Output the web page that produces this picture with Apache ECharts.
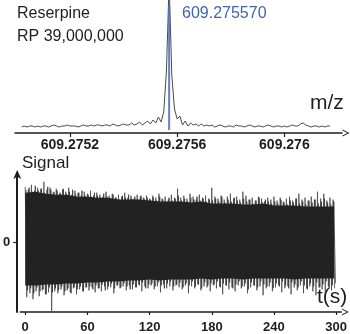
<!DOCTYPE html>
<html>
<head>
<meta charset="utf-8">
<script src="https://cdn.jsdelivr.net/npm/echarts@6/dist/echarts.min.js"></script>
<style>
  html, body { margin: 0; padding: 0; background: #fff; }
  #chart { width: 350px; height: 334px; }
</style>
</head>
<body>
<div id="chart"></div>
<script>
// spectrum: m/z start + step, intensity in arbitrary units (axis 0..133)
var mzStart = 609.27502;
var mzStep = 0.00001;
var intensity = [
  6, 7, 6, 7, 7, 6, 7, 6, 7, 7,
  6, 7, 8, 7, 6, 7, 7, 8, 7, 7,
  7, 6, 7, 8, 7, 7, 8, 7, 8, 8,
  7, 8, 8, 7, 9, 8, 7, 8, 9, 8,
  8, 10, 8, 9, 11, 8, 10, 12, 9, 13,
  10, 16, 11, 21, 62, 150, 58, 24, 14, 17,
  8, 12, 7, 10, 8, 9, 7, 9,
  7, 8, 7, 8, 6, 7, 8, 7, 6, 7,
  7, 6, 8, 7, 7, 6, 7, 8, 7, 6,
  7, 7, 6, 7, 8, 7, 6, 7, 7, 6,
  7, 6, 7, 8, 7, 7, 9, 10, 8, 7,
  6, 7, 7, 6, 7, 6, 7, 7
];
var peakMz = 609.275570;
var mzTicks = [609.2752, 609.2756, 609.2760];
var mzTickLabels = ['609.2752', '609.2756', '609.276'];

// transient: solid core envelope
var coreTime = [0, 10, 20, 30, 40, 50, 60, 70, 80, 90, 100, 110, 120, 130, 140, 150,
  160, 170, 180, 190, 200, 210, 220, 230, 240, 250, 260, 270, 280, 290, 298];
var coreTop = [50, 51, 49, 48, 48, 46, 46, 45, 45, 43, 43, 43, 42, 41, 41, 41,
  40, 41, 39, 39, 39, 38, 38, 39, 37, 37, 37, 36, 36, 36, 36];
var coreBottom = [-44, -44, -43, -43, -42, -42, -41, -41, -40, -40, -39, -39, -38, -39, -38, -38,
  -38, -37, -38, -37, -37, -38, -37, -37, -37, -37, -38, -37, -37, -37, -37];

// transient: spike maxima / minima, one pair every 3 s (two interleaved sets)
var spikeStep = 3;
var spikeUp = [
  56, 53, 58, 52, 55, 54, 61, 53, 55, 50,
  54, 49, 53, 51, 55, 48, 52, 50, 47, 51,
  49, 52, 47, 50, 48, 46, 51, 47, 49, 45,
  48, 46, 50, 45, 47, 44, 48, 46, 45, 47,
  44, 47, 45, 49, 44, 46, 43, 48, 45, 54,
  45, 47, 44, 49, 46, 43, 48, 45, 47, 44,
  55, 46, 44, 47, 43, 46, 49, 44, 46, 43,
  51, 47, 43, 45, 42, 46, 44, 41, 45, 43,
  46, 42, 45, 41, 44, 46, 42, 44, 49, 43,
  45, 42, 46, 43, 51, 44, 49, 42, 45, 43
];
var spikeDown = [
  -56, -52, -58, -50, -55, -49, -53, -51, -70, -50,
  -52, -48, -54, -49, -51, -47, -53, -48, -50, -46,
  -49, -46, -51, -47, -50, -45, -48, -46, -52, -44,
  -47, -45, -49, -44, -48, -46, -43, -50, -45, -47,
  -44, -48, -45, -51, -43, -47, -45, -49, -44, -46,
  -48, -44, -52, -45, -47, -43, -49, -45, -46, -50,
  -44, -47, -45, -53, -44, -48, -46, -50, -44, -47,
  -45, -52, -46, -44, -49, -45, -54, -47, -45, -50,
  -46, -44, -51, -47, -45, -53, -46, -49, -44, -52,
  -47, -45, -50, -54, -46, -48, -52, -45, -49, -47
];
var spikeUp2 = [
  53, 55, 51, 57, 52, 54, 50, 56, 53, 51,
  52, 50, 54, 49, 51, 53, 48, 50, 52, 47,
  48, 46, 50, 47, 45, 49, 46, 44, 48, 45,
  43, 47, 45, 48, 44, 46, 43, 47, 44, 45,
  43, 45, 42, 46, 43, 41, 45, 42, 44, 47,
  42, 44, 41, 45, 43, 46, 42, 44, 41, 43,
  42, 44, 41, 46, 40, 43, 41, 45, 42, 40,
  44, 41, 43, 39, 42, 45, 40, 43, 41, 39,
  41, 39, 43, 40, 38, 42, 40, 44, 39, 41,
  38, 42, 40, 43, 39, 41, 44, 40, 38, 41
];
var spikeDown2 = [
  -49, -47, -52, -46, -50, -48, -53, -46, -51, -47,
  -49, -45, -50, -47, -52, -46, -48, -45, -50, -46,
  -45, -48, -44, -47, -43, -49, -45, -42, -47, -44,
  -46, -42, -45, -48, -43, -46, -44, -41, -47, -43,
  -42, -45, -41, -44, -47, -42, -40, -45, -43, -41,
  -46, -42, -44, -40, -45, -43, -47, -41, -44, -42,
  -43, -40, -46, -42, -44, -41, -47, -43, -40, -45,
  -42, -48, -41, -44, -46, -40, -43, -45, -41, -47,
  -42, -45, -40, -44, -47, -41, -43, -46, -40, -44,
  -48, -42, -45, -41, -46, -43, -40, -47, -44, -42
];
var timeTicks = [0, 60, 120, 180, 240, 300];
var signalTicks = [0];

var FONT = 'Liberation Sans, Arial, sans-serif';
var INK = '#1e1e1e';
var arrowPath = 'path://M0,10 L5,0 L10,10 L8.6,10 L5,3 L1.4,10 Z';

var spectrum = intensity.map(function (v, i) {
  return [mzStart + i * mzStep, v];
});
function zigzagOf(up, down, shift) {
  var pts = [];
  up.forEach(function (v, i) {
    pts.push([i * spikeStep + shift, v]);
    pts.push([i * spikeStep + shift + spikeStep / 2, down[i]]);
  });
  return pts;
}
var coreUp = coreTime.map(function (t, i) { return [t, coreTop[i]]; });
var coreDown = coreTime.map(function (t, i) { return [t, coreBottom[i]]; });

var myChart = echarts.init(document.getElementById('chart'));
var option = {
  animation: false,
  grid: [
    { left: 15, right: 8, top: 0, height: 133 },
    { left: 20, right: 8, top: 173, height: 141 }
  ],
  xAxis: [
    {
      gridIndex: 0,
      type: 'value',
      min: 609.274995,
      max: 609.276215,
      splitLine: { show: false },
      axisLine: {
        onZero: false,
        lineStyle: { color: INK, width: 1.5 },
        symbol: ['none', arrowPath],
        symbolSize: [9, 7],
        symbolOffset: [0, 4]
      },
      axisTick: {
        customValues: mzTicks,
        length: 4,
        lineStyle: { color: INK, width: 1.2 }
      },
      axisLabel: {
        customValues: mzTicks,
        margin: 5,
        color: INK,
        fontFamily: FONT,
        fontWeight: 'bold',
        fontSize: 14,
        formatter: function (v) {
          var k = 0;
          mzTicks.forEach(function (t, i) {
            if (Math.abs(t - v) < Math.abs(mzTicks[k] - v)) k = i;
          });
          return mzTickLabels[k];
        }
      }
    },
    {
      gridIndex: 1,
      type: 'value',
      min: -4.8,
      max: 305,
      splitLine: { show: false },
      axisLine: {
        onZero: false,
        lineStyle: { color: INK, width: 1.5 },
        symbol: ['none', arrowPath],
        symbolSize: [9, 7],
        symbolOffset: [0, 4]
      },
      axisTick: {
        customValues: timeTicks,
        length: 3,
        lineStyle: { color: INK, width: 1.2 }
      },
      axisLabel: {
        customValues: timeTicks,
        margin: 9,
        color: INK,
        fontFamily: FONT,
        fontWeight: 'bold',
        fontSize: 13
      }
    }
  ],
  yAxis: [
    {
      gridIndex: 0,
      type: 'value',
      min: 0,
      max: 133,
      show: false
    },
    {
      gridIndex: 1,
      type: 'value',
      min: -71,
      max: 70,
      offset: 3,
      splitLine: { show: false },
      axisLine: {
        onZero: false,
        lineStyle: { color: INK, width: 2 },
        symbol: ['none', 'arrow'],
        symbolSize: [6, 9],
        symbolOffset: [0, 3]
      },
      axisTick: {
        customValues: signalTicks,
        length: 4,
        lineStyle: { color: INK, width: 1.2 }
      },
      axisLabel: {
        customValues: signalTicks,
        margin: 7,
        color: INK,
        fontFamily: FONT,
        fontWeight: 'bold',
        fontSize: 13
      }
    }
  ],
  series: [
    {
      name: 'spectrum',
      type: 'line',
      xAxisIndex: 0,
      yAxisIndex: 0,
      data: spectrum,
      showSymbol: false,
      lineStyle: { color: '#4a4a4a', width: 1 },
      z: 2
    },
    {
      name: 'peak',
      type: 'line',
      xAxisIndex: 0,
      yAxisIndex: 0,
      data: [[peakMz, 3], [peakMz, 128]],
      showSymbol: false,
      lineStyle: { color: 'rgba(72,108,196,0.85)', width: 2 },
      z: 3
    },
    {
      name: 'transient',
      type: 'line',
      xAxisIndex: 1,
      yAxisIndex: 1,
      data: zigzagOf(spikeUp, spikeDown, 0),
      showSymbol: false,
      lineStyle: { color: '#4a4a4a', width: 0.8 },
      z: 2
    },
    {
      name: 'transient2',
      type: 'line',
      xAxisIndex: 1,
      yAxisIndex: 1,
      data: zigzagOf(spikeUp2, spikeDown2, 0.75),
      showSymbol: false,
      lineStyle: { color: '#333', width: 0.8 },
      z: 2
    },
    {
      name: 'coreUp',
      type: 'line',
      xAxisIndex: 1,
      yAxisIndex: 1,
      data: coreUp,
      showSymbol: false,
      lineStyle: { width: 0 },
      areaStyle: { color: '#222', opacity: 1 },
      z: 3
    },
    {
      name: 'coreDown',
      type: 'line',
      xAxisIndex: 1,
      yAxisIndex: 1,
      data: coreDown,
      showSymbol: false,
      lineStyle: { width: 0 },
      areaStyle: { color: '#222', opacity: 1 },
      z: 3
    }
  ],
  graphic: [
    { type: 'text', left: 17, top: 6, style: { text: 'Reserpine', fill: INK, font: '16px ' + FONT } },
    { type: 'text', left: 17, top: 29, style: { text: 'RP 39,000,000', fill: INK, font: '16px ' + FONT } },
    { type: 'text', left: 182, top: 6, style: { text: '609.275570', fill: '#4262b2', font: '16px ' + FONT } },
    { type: 'text', left: 310, top: 93, style: { text: 'm/z', fill: INK, font: '21px ' + FONT } },
    { type: 'text', left: 22, top: 155, style: { text: 'Signal', fill: INK, font: '17px ' + FONT } },
    { type: 'text', left: 317, top: 287, style: { text: 't(s)', fill: INK, font: '21px ' + FONT } }
  ]
};
myChart.setOption(option, true);

window.addEventListener('resize', function () {
  myChart.resize();
});
</script>
</body>
</html>
